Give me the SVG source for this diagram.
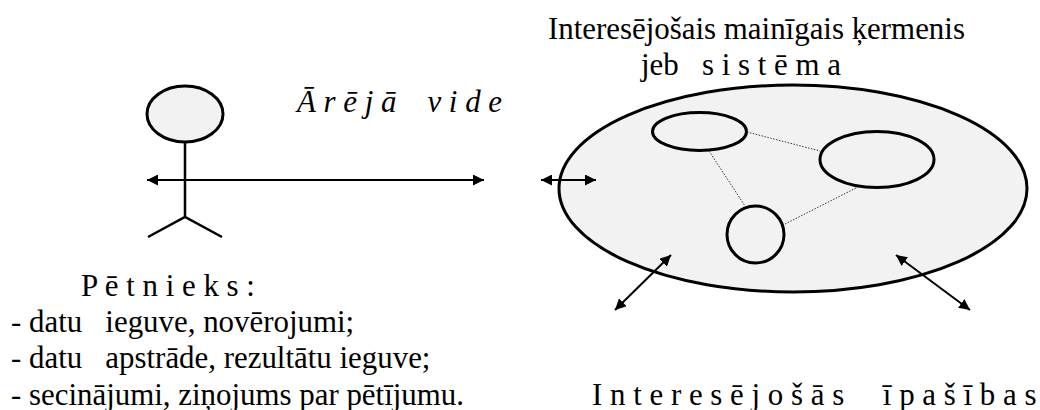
<svg xmlns="http://www.w3.org/2000/svg" width="1040" height="410" viewBox="0 0 1040 410">
<style>
text{font-family:"Liberation Serif","Times New Roman",serif;font-size:30.9px;fill:#000;white-space:pre}
.s{fill:#f2f2f2;stroke:#000;stroke-width:3}
.l{fill:none;stroke:#000;stroke-width:2.5}
.a{fill:none;stroke:#000;stroke-width:2;marker-start:url(#h);marker-end:url(#h)}
.d{fill:none;stroke:#333;stroke-width:1;stroke-dasharray:1.5 1.5}
</style>
<defs><marker id="h" viewBox="0 0 10 10" refX="10" refY="5" markerWidth="5.5" markerHeight="5.5" orient="auto-start-reverse" markerUnits="strokeWidth"><path d="M0 0L10 5L0 10Z" fill="#000"/></marker></defs>
<rect width="1040" height="410" fill="#fff"/>
<g id="system"><ellipse class="s" cx="793" cy="188.5" rx="234" ry="103.5"/></g>
<g id="part1"><ellipse class="s" cx="699.5" cy="131.5" rx="47" ry="19"/></g>
<g id="part2"><ellipse class="s" cx="877" cy="159.5" rx="57" ry="28"/></g>
<g id="part3"><circle class="s" cx="755.5" cy="234.5" r="28.5"/></g>
<g id="researcher">
<ellipse class="s" cx="185" cy="114" rx="38" ry="28"/>
<path class="l" d="M185 142V217M148 237L185 217L222 237"/>
</g>
<g id="connectors">
<path class="d" d="M747 132L820 151M709 151L745 206M785 224L858 187"/>
<path class="a" d="M147 180H484"/>
<path class="a" d="M541 180H596"/>
<path class="a" d="M615 310L671 255"/>
<path class="a" d="M970 310L896 255"/>
</g>
<g id="labels">
<text x="548" y="39">Interesējošais mainīgais ķermenis</text>
<text x="641" y="75">jeb   s i s t ē m a</text>
<text x="297" y="112" font-style="italic">Ā r ē j ā    v i d e</text>
<text x="81" y="296">P ē t n i e k s :</text>
<text x="11" y="332">- datu   ieguve, novērojumi;</text>
<text x="11" y="368">- datu   apstrāde, rezultātu ieguve;</text>
<text x="11" y="405">- secinājumi, ziņojums par pētījumu.</text>
<text x="592" y="405">I n t e r e s ē j o š ā s     ī p a š ī b a s</text>
</g>
</svg>
